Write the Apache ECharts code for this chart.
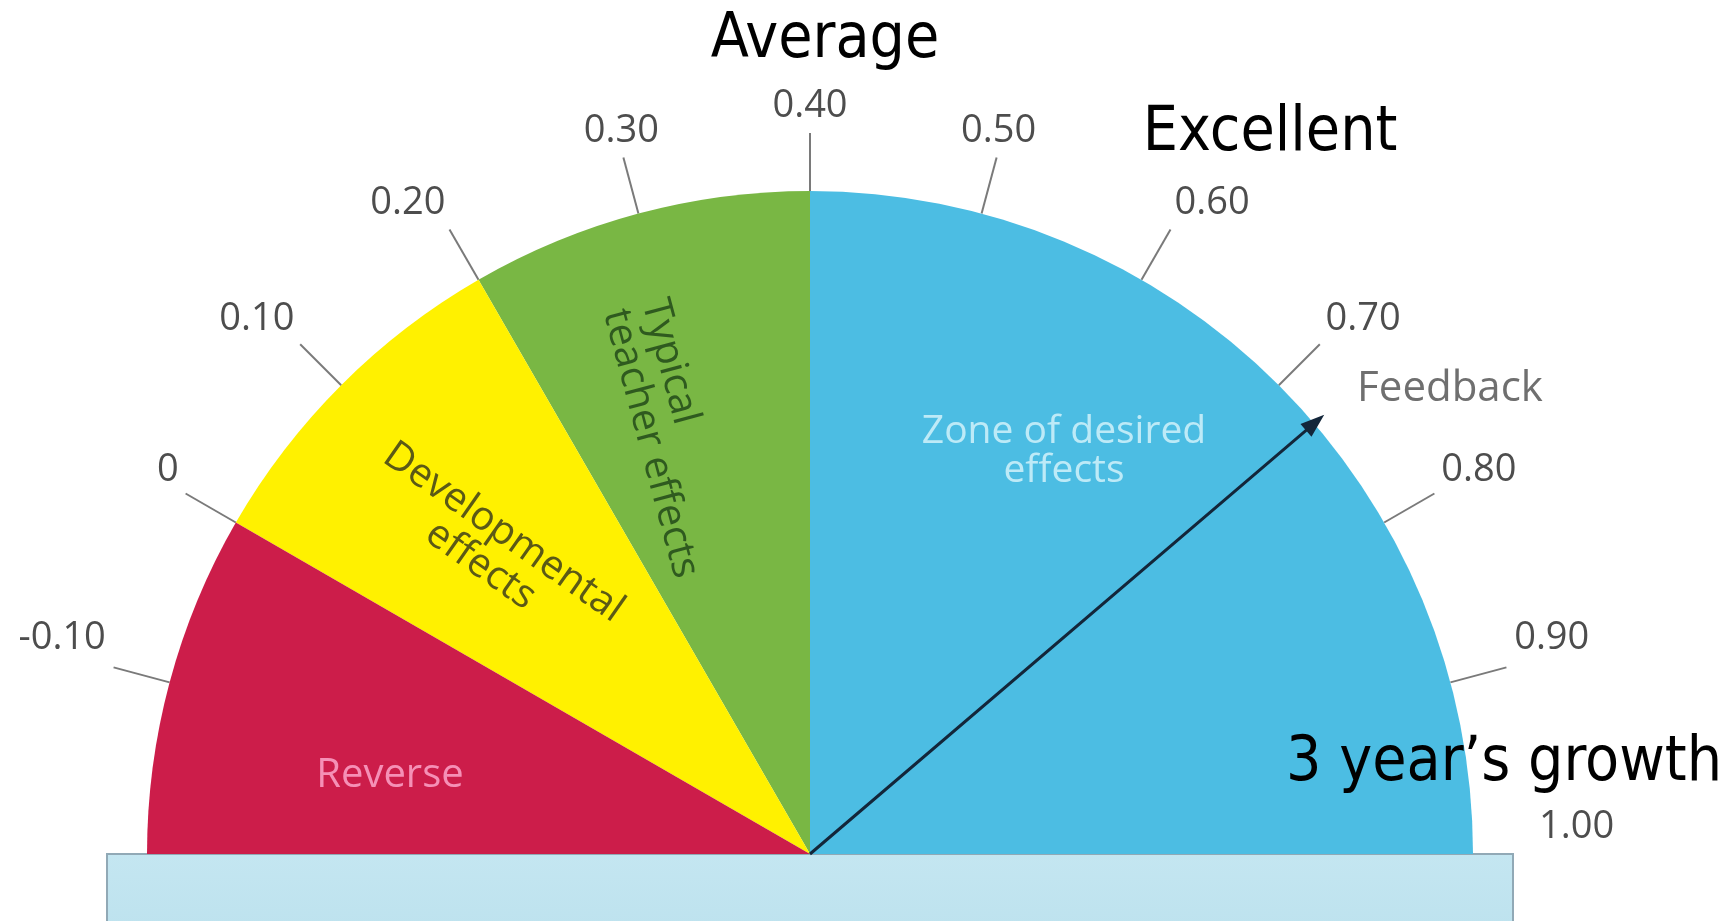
<!DOCTYPE html>
<html>
<head>
<meta charset="utf-8">
<title>Barometer of influence</title>
<script src="https://cdn.jsdelivr.net/npm/echarts@6/dist/echarts.min.js"></script>
<style>
  html, body { margin: 0; padding: 0; background: #ffffff; }
  #chart { width: 1732px; height: 921px; }
</style>
</head>
<body>
<div id="chart"></div>
<script>
// Scale of the barometer (effect size)
const scaleMin = -0.2;
const scaleMax = 1.0;

// Zones of the dial: name and upper bound of each zone
const zoneNames = ['Reverse', 'Developmental\neffects', 'Typical\nteacher effects', 'Zone of desired\neffects'];
const zoneEnds = [0, 0.2, 0.4, 1.0];

// Labelled ticks round the dial
const tickValues = [-0.1, 0, 0.1, 0.2, 0.3, 0.4, 0.5, 0.6, 0.7, 0.8, 0.9, 1.0];
const tickLabels = ['-0.10', '0', '0.10', '0.20', '0.30', '0.40', '0.50', '0.60', '0.70', '0.80', '0.90', '1.00'];

// The influence shown by the needle
const needleName = 'Feedback';
const needleValue = 0.73;

// Reference notes written round the dial
const notes = ['Average', 'Excellent', '3 year\u2019s growth'];

// ---- styling ----
const zoneColors = ['#cc1d4a', '#fff100', '#79b744', '#4cbde3'];
const zoneTextColors = ['#f590b6', '#5b5916', '#2f5a1f', '#bdeaf7'];
const CX = 810, CY = 854, R = 663;
const span = scaleMax - scaleMin;
const angleOf = v => 180 - (v - scaleMin) / span * 180;

const chart = echarts.init(document.getElementById('chart'), null, { renderer: 'canvas' });

const labelFont = { fontFamily: 'Open Sans', fontSize: 38, color: '#4d4d4d' };

const option = {
  backgroundColor: '#ffffff',
  animation: false,
  // polar frame used only for the outer tick labels
  polar: { center: [CX, CY], radius: R },
  radiusAxis: { type: 'value', min: 0, max: 1, show: false },
  angleAxis: {
    type: 'value',
    min: scaleMin,
    max: scaleMin + 2 * span,
    interval: 0.1,
    startAngle: 180,
    clockwise: true,
    axisLine: { show: false },
    axisTick: { show: false },
    splitLine: { show: false },
    axisLabel: {
      margin: 66,
      formatter: function (v) {
        const i = tickValues.findIndex(t => Math.abs(t - v) < 1e-6);
        if (i < 0) return '';
        const a = angleOf(tickValues[i]);
        const side = a < 17.5 || a > 162.5;
        return '{' + (side ? 's' : 't') + '|' + tickLabels[i] + '}';
      },
      rich: {
        t: Object.assign({ padding: [0, 0, 0, 0] }, labelFont),
        s: Object.assign({ padding: [0, 0, 54, 0] }, labelFont)
      }
    }
  },
  graphic: [
    {
      type: 'rect', z: 0,
      shape: { x: 107, y: CY, width: 1406, height: 80 },
      style: {
        fill: new echarts.graphic.LinearGradient(0, 0, 0, 1, [
          { offset: 0, color: '#c4e6f1' },
          { offset: 1, color: '#bde2ee' }
        ]),
        stroke: '#91a9b6', lineWidth: 2
      }
    },
    // zone captions
    { type: 'text', z: 10, x: 390, y: 776,
      style: { text: zoneNames[0], fill: zoneTextColors[0], font: '40px "Open Sans"', align: 'center', verticalAlign: 'middle' } },
    { type: 'text', z: 10, x: 492, y: 549, rotation: -35 * Math.PI / 180,
      style: { text: zoneNames[1], fill: zoneTextColors[1], font: '40px "Open Sans"', lineHeight: 40, align: 'center', verticalAlign: 'middle' } },
    { type: 'text', z: 10, x: 634, y: 305, rotation: -75 * Math.PI / 180,
      style: { text: zoneNames[2], fill: zoneTextColors[2], font: '40px "Open Sans"', lineHeight: 40, align: 'left', verticalAlign: 'middle' } },
    { type: 'text', z: 10, x: 1064, y: 451,
      style: { text: zoneNames[3], fill: zoneTextColors[3], font: '39px "Open Sans"', lineHeight: 39, align: 'center', verticalAlign: 'middle' } },
    // notes
    { type: 'text', z: 10, x: 825, y: 41,
      style: { text: notes[0], fill: '#000000', font: '62px "DejaVu Sans Condensed", "DejaVu Sans"', align: 'center', verticalAlign: 'middle' } },
    { type: 'text', z: 10, x: 1270, y: 134,
      style: { text: notes[1], fill: '#000000', font: '62px "DejaVu Sans Condensed", "DejaVu Sans"', align: 'center', verticalAlign: 'middle' } },
    { type: 'text', z: 10, x: 1504, y: 764,
      style: { text: notes[2], fill: '#000000', font: '62px "DejaVu Sans Condensed", "DejaVu Sans"', align: 'center', verticalAlign: 'middle' } }
  ],
  series: [
    {
      // filled dial with the needle
      type: 'gauge',
      z: 2,
      center: [CX, CY],
      radius: R,
      startAngle: 180,
      endAngle: 0,
      min: scaleMin,
      max: scaleMax,
      splitNumber: 12,
      axisLine: {
        lineStyle: {
          width: R,
          color: zoneEnds.map((e, i) => [(e - scaleMin) / span, zoneColors[i]])
        }
      },
      axisTick: { show: false },
      splitLine: { show: false },
      axisLabel: { show: false },
      pointer: {
        icon: 'path://M6.6,20L9.4,20L9.4,676L6.6,676Z M8,0L16,24L0,24Z',
        length: '102%',
        width: 17,
        itemStyle: { color: '#13263a' }
      },
      anchor: { show: false },
      title: {
        show: true,
        offsetCenter: [640, -465],
        fontFamily: 'Open Sans',
        fontSize: 42,
        color: '#6f6f6f'
      },
      detail: { show: false },
      data: [{ value: needleValue, name: needleName }]
    },
    {
      // outer tick marks
      type: 'gauge',
      z: 1,
      center: [CX, CY],
      radius: R,
      startAngle: angleOf(tickValues[0]),
      endAngle: angleOf(tickValues[tickValues.length - 2]),
      min: tickValues[0],
      max: tickValues[tickValues.length - 2],
      splitNumber: tickValues.length - 2,
      axisLine: { show: false, lineStyle: { width: 0 } },
      axisTick: { show: false },
      splitLine: { show: true, distance: -58, length: 58, lineStyle: { color: '#7a7a7a', width: 2 } },
      axisLabel: { show: false },
      pointer: { show: false },
      anchor: { show: false },
      title: { show: false },
      detail: { show: false },
      data: []
    }
  ]
};

chart.setOption(option);
</script>
</body>
</html>
